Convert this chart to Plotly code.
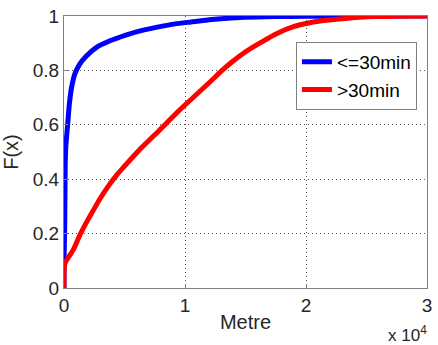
import plotly.graph_objects as go

# <=30min CDF (distance in metres, cumulative probability)
short_x = [0, 0, 50, 80, 100, 150, 300, 450, 630, 900, 1300, 1850, 2660, 3750, 5110,
           6460, 7820, 9180, 10500, 12200, 14900, 17500, 20000, 22500, 24500, 30000]
short_f = [0, 0.1, 0.2, 0.35, 0.45, 0.52, 0.6, 0.68, 0.738, 0.787, 0.823, 0.853, 0.884,
           0.908, 0.93, 0.947, 0.96, 0.971, 0.978, 0.987, 0.995, 0.998, 0.999, 1.0, 1.0, 1.0]

# >30min CDF
long_x = [0, 0, 80, 400, 760, 1370, 1900, 2390, 3000, 3750, 4400, 5110, 5800, 6460,
          7550, 8400, 9450, 10810, 12170, 13000, 13800, 14890, 16240, 17600, 18970,
          20320, 21680, 23040, 24390, 25750, 27500, 30000]
long_f = [0, 0.05, 0.09, 0.115, 0.14, 0.2, 0.245, 0.283, 0.33, 0.38, 0.418, 0.453,
          0.487, 0.518, 0.565, 0.603, 0.65, 0.706, 0.762, 0.797, 0.828, 0.865, 0.902,
          0.936, 0.961, 0.975, 0.984, 0.99, 0.995, 0.998, 0.9995, 1.0]

x_tickvals = [0, 10000, 20000, 30000]
x_ticktext = ["0", "1", "2", "3"]
y_tickvals = [0, 0.2, 0.4, 0.6, 0.8, 1]
y_ticktext = ["0", "0.2", "0.4", "0.6", "0.8", "1"]

FONT = "Liberation Sans, Arial, sans-serif"
TXT = "#262626"

fig = go.Figure()
fig.add_trace(go.Scatter(x=short_x, y=short_f, mode="lines", name="<=30min",
                         line=dict(color="#0000ff", width=5, shape="spline", smoothing=0.6)))
fig.add_trace(go.Scatter(x=long_x, y=long_f, mode="lines", name=">30min",
                         line=dict(color="#ff0000", width=5, shape="spline", smoothing=0.8)))

axis_common = dict(showline=True, linecolor="#808080", linewidth=1, mirror=True,
                   ticks="inside", ticklen=4, tickcolor="#808080",
                   showgrid=True, gridcolor="#505050", gridwidth=1, griddash="1px,3px",
                   zeroline=False, tickfont=dict(family=FONT, size=19, color=TXT))

fig.update_xaxes(range=[0, 30000], tickvals=x_tickvals, ticktext=x_ticktext,
                 title=dict(text="Metre", font=dict(family=FONT, size=20, color=TXT),
                            standoff=0), **axis_common)
fig.update_yaxes(range=[0, 1], tickvals=y_tickvals, ticktext=y_ticktext,
                 title=dict(text="F(x)", font=dict(family=FONT, size=20, color=TXT),
                            standoff=8), **axis_common)

fig.add_annotation(x=1, y=0, xref="paper", yref="paper", xanchor="right", yanchor="top",
                   yshift=-33, xshift=2, showarrow=False,
                   text="x 10<sup>4</sup>", font=dict(family=FONT, size=17, color=TXT))

fig.update_layout(width=438, height=345, margin=dict(l=64, r=6, t=13, b=57),
                  plot_bgcolor="white", paper_bgcolor="white",
                  font=dict(family=FONT, size=19, color=TXT),
                  showlegend=True,
                  legend=dict(x=0.639, y=0.905, xanchor="left", yanchor="top",
                              bordercolor="#808080", borderwidth=1, bgcolor="white",
                              font=dict(family=FONT, size=19, color="#000000"),
                              tracegroupgap=0, itemwidth=30))

fig.write_html("out.html")
